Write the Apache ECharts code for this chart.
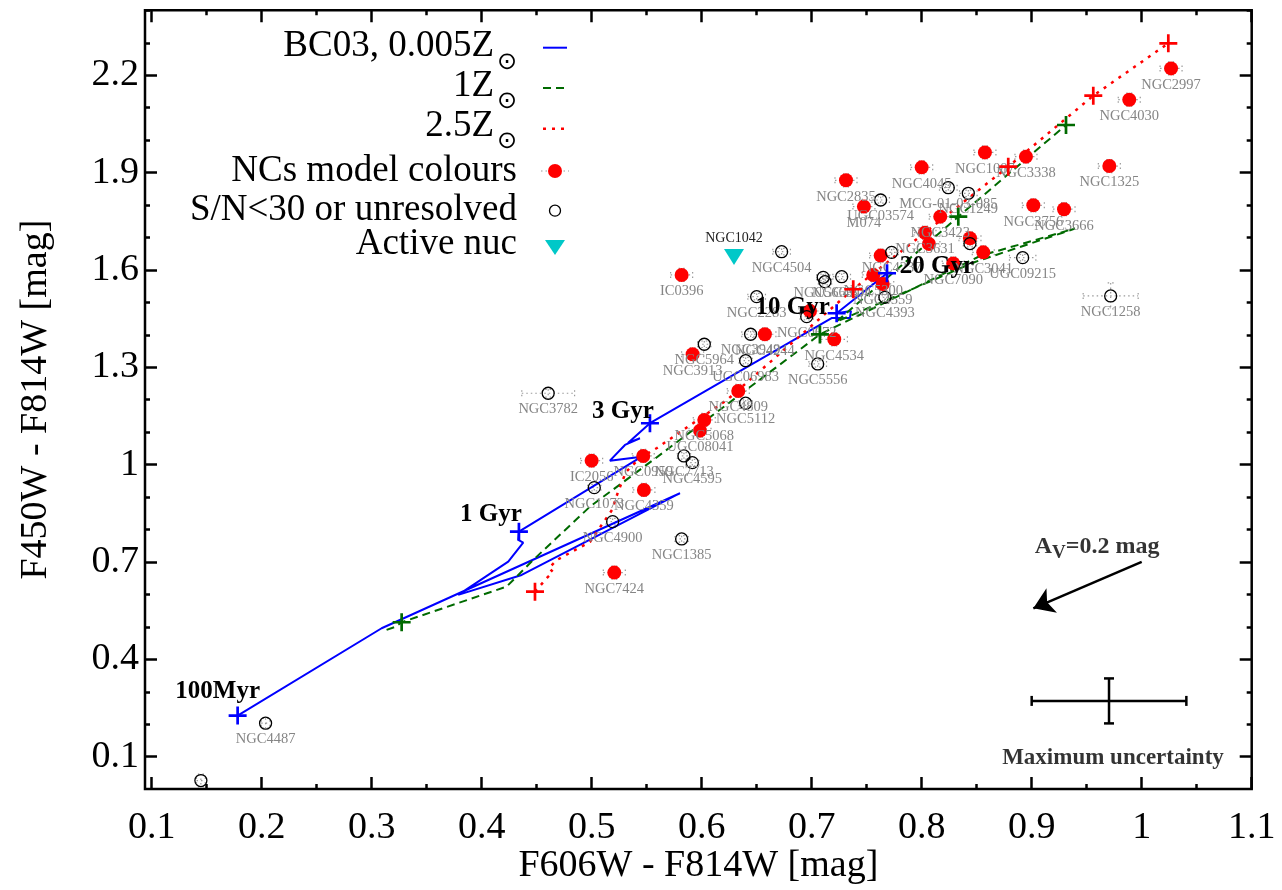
<!DOCTYPE html>
<html>
<head>
<meta charset="utf-8">
<script src="https://cdn.jsdelivr.net/npm/echarts@6/dist/echarts.min.js"></script>
<style>html,body{margin:0;padding:0;background:#fff}#chart{width:1282px;height:890px}</style>
</head>
<body>
<div id="chart"></div>
<script>
// NCs model colours (red dots)
var ncNames = ['NGC2997','NGC4030','NGC1325','NGC3338','NGC1087','NGC4045','NGC2835','M074','NGC3756','NGC3666',
               'NGC3423','NGC3631','','','NGC3041','NGC7090','','NGC5300','NGC4559','',
               'NGC4534','NGC4244','NGC3913','IC0396','NGC4809','NGC5068','UGC08041','IC2056','NGC0959','NGC4359','NGC7424'];
var ncX = [1.0267,0.9887,0.9706,0.8948,0.8575,0.800,0.7312,0.7475,0.9015,0.9294,
           0.8169,0.803,0.8066,0.8439,0.856,0.8287,0.7627,0.756,0.7646,0.6985,
           0.7205,0.6575,0.5918,0.5818,0.6333,0.6024,0.5985,0.500,0.5469,0.5475,0.5206];
var ncY = [2.221,2.1245,1.920,1.949,1.962,1.916,1.876,1.795,1.799,1.787,
           1.764,1.7146,1.680,1.6974,1.654,1.620,1.644,1.5843,1.5566,1.4733,
           1.386,1.4015,1.340,1.5843,1.2268,1.1374,1.1045,1.012,1.0265,0.9217,0.6669];
var ncErrX = [0.01,0.01,0.01,0.01,0.01,0.01,0.01,0.01,0.01,0.01,
              0.01,0.01,0.01,0.01,0.01,0.01,0.01,0.01,0.01,0.01,
              0.012,0.01,0.01,0.01,0.01,0.01,0.01,0.01,0.01,0.01,0.01];
var ncErrY = [0.02,0.02,0.02,0.02,0.02,0.02,0.02,0.02,0.02,0.02,
              0.02,0.02,0.02,0.02,0.02,0.02,0.02,0.02,0.02,0.02,
              0.02,0.02,0.02,0.02,0.02,0.02,0.02,0.02,0.02,0.02,0.02];

// S/N<30 or unresolved (open circles)
var lowNames = ['','NGC4487','NGC3782','NGC1385','NGC4900','NGC1073','NGC7713','NGC4595','NGC5112','UGC06983',
                'NGC5964','NGC3949','NGC5556','NGC2283','NGC4504','NGC5669','','NGC4204','NGC0672','NGC4393',
                'NGC4237','MCG-01-03-085','NGC1249','UGC03574','','UGC09215','NGC1258'];
var lowX = [0.1448,0.2036,0.4605,0.5818,0.5191,0.5024,0.5839,0.5915,0.640,0.640,
            0.6024,0.6445,0.7055,0.650,0.6727,0.7105,0.7121,0.7273,0.6955,0.7666,
            0.7727,0.8242,0.8424,0.7627,0.8439,0.8918,0.9718];
var lowY = [0.026,0.2028,1.2197,0.7707,0.824,0.9288,1.0265,1.0059,1.189,1.320,
            1.3707,1.4015,1.310,1.5174,1.656,1.577,1.5636,1.579,1.4558,1.5155,
            1.654,1.8533,1.836,1.8154,1.681,1.6376,1.5196];
var lowErrX = [0.004,0.004,0.024,0.006,0.006,0.006,0.006,0.006,0.006,0.006,
               0.006,0.008,0.008,0.008,0.008,0.006,0.006,0.008,0.006,0.006,
               0.006,0.008,0.008,0.008,0.006,0.012,0.025];
var lowErrY = [0.02,0.015,0.012,0.01,0.01,0.01,0.01,0.01,0.01,0.01,
               0.01,0.01,0.01,0.01,0.01,0.01,0.01,0.01,0.01,0.01,
               0.01,0.01,0.01,0.01,0.01,0.01,0.04];

// Active nucleus
var agnNames = ['NGC1042'];
var agnX = [0.6294];
var agnY = [1.640];

// BC03 tracks
var trackBlue = [[0.1782,0.2262],[0.3091,0.4955],[0.5803,0.9116],[0.4364,0.6598],[0.3787,0.5982],
                 [0.4242,0.7008],[0.4378,0.7593],[0.4333,0.7676],[0.4339,0.7932],[0.5455,1.0243],
                 [0.5166,1.012],[0.5303,1.0604],[0.5439,1.081],[0.533,1.0666],[0.553,1.1273],
                 [0.7185,1.4517],[0.7348,1.4517],[0.7357,1.4733],[0.7227,1.4663],[0.7685,1.5895]];
var trackGreen = [[0.3136,0.4903],[0.3212,0.4995],[0.3273,0.514],[0.4227,0.6237],[0.4318,0.6545],
                  [0.4469,0.706],[0.4985,0.8703],[0.556,1.0142],[0.7075,1.4011],[0.853,1.6428],
                  [0.9394,1.7276],[0.9275,1.7137],[0.8485,1.6243],[0.7221,1.4394],[0.8333,1.764],[0.9312,2.0465]];
var trackRed = [[0.4485,0.6083],[0.4594,0.6505],[0.4648,0.669],[0.4612,0.6813],[0.4685,0.706],
                [0.4985,0.7615],[0.5185,0.8601],[0.524,0.9156],[0.5312,0.9772],[0.5439,1.0203],
                [0.5594,1.0511],[0.623,1.1991],[0.7378,1.5402],[0.8787,1.918],[0.956,2.1368],[1.0242,2.2983]];

// age markers
var blueAgeX = [0.1782,0.4339,0.553,0.7227,0.7685];
var blueAgeY = [0.2262,0.7932,1.1273,1.4663,1.5895];
var blueAgeText = ['100Myr','1 Gyr','3 Gyr','10 Gyr','20 Gyr'];
var greenAgeX = [0.3273,0.7075,0.8333,0.9312];
var greenAgeY = [0.514,1.4011,1.764,2.0465];
var redAgeX = [0.4485,0.7378,0.8787,0.956,1.0242];
var redAgeY = [0.6083,1.5402,1.918,2.1368,2.2983];

// extinction vector and maximum uncertainty
var avArrow = [[1.0,0.70],[0.9015,0.557]];
var avText = [0.9594,0.747];
var maxErr = [0.9703,0.2715,0.0703,0.0693];
var maxErrText = [0.9739,0.0949];

var FONT = 'Liberation Serif';
var PLUS = 'path://M8.5,0H11.5V8.5H20V11.5H11.5V20H8.5V11.5H0V8.5H8.5Z';
var ageOffsets = [[-20,-24],[-28,-17],[-27,-12],[-44,-6],[50,-7]];

function errRender(color, width, dash, cap){
    return function(params, api){
        var x = api.value(0), y = api.value(1), ex = api.value(2), ey = api.value(3);
        var l = api.coord([x-ex,y]), r = api.coord([x+ex,y]);
        var t = api.coord([x,y+ey]), b = api.coord([x,y-ey]);
        var st = {stroke:color, lineWidth:width, lineDash:dash, fill:null};
        return {type:'group', children:[
            {type:'line', shape:{x1:l[0],y1:l[1],x2:r[0],y2:r[1]}, style:st},
            {type:'line', shape:{x1:t[0],y1:t[1],x2:b[0],y2:b[1]}, style:st},
            {type:'line', shape:{x1:l[0],y1:l[1]-cap,x2:l[0],y2:l[1]+cap}, style:st},
            {type:'line', shape:{x1:r[0],y1:r[1]-cap,x2:r[0],y2:r[1]+cap}, style:st},
            {type:'line', shape:{x1:t[0]-cap,y1:t[1],x2:t[0]+cap,y2:t[1]}, style:st},
            {type:'line', shape:{x1:b[0]-cap,y1:b[1],x2:b[0]+cap,y2:b[1]}, style:st}
        ]};
    };
}

var errData = [];
for (var i=0;i<ncX.length;i++) errData.push([ncX[i],ncY[i],ncErrX[i],ncErrY[i]]);
for (var j=0;j<lowX.length;j++) errData.push([lowX[j],lowY[j],lowErrX[j],lowErrY[j]]);

var ncData = ncX.map(function(x,i){ return [x,ncY[i],ncNames[i]]; });
var lowData = lowX.map(function(x,i){ return [x,lowY[i],lowNames[i]]; });
var agnData = agnX.map(function(x,i){ return [x,agnY[i],agnNames[i]]; });
var blueAgeData = blueAgeX.map(function(x,i){
    return {value:[x,blueAgeY[i],blueAgeText[i]], label:{offset:ageOffsets[i]}};
});
var greenAgeData = greenAgeX.map(function(x,i){ return [x,greenAgeY[i]]; });
var redAgeData = redAgeX.map(function(x,i){ return [x,redAgeY[i]]; });

var pointLabel = {show:true, position:'bottom', distance:2, color:'#858585', fontSize:14.5,
                  fontFamily:FONT, formatter:function(p){ return p.value[2]; }};

var tickLabel = {color:'#000', fontSize:38, fontFamily:FONT};
var tickMajor = {show:true, inside:true, length:12, lineStyle:{color:'#000', width:2.5}};
var noAxis = {axisLine:{show:false}, axisTick:{show:false}, axisLabel:{show:false}, splitLine:{show:false}};

var myChart = echarts.init(document.getElementById('chart'));

var option = {
    animation:false,
    backgroundColor:'#fff',
    textStyle:{fontFamily:FONT},
    grid:[
        {left:145, right:30.3, top:10.3, bottom:100.9, show:true, borderColor:'#000', borderWidth:2.5, backgroundColor:'transparent'},
        {left:145, right:30.3, top:75.2, bottom:133.35},
        {left:151.7, right:30.3, top:10.3, bottom:100.9},
        {left:145, right:30.3, top:10.3, bottom:814.8}
    ],
    xAxis:[
        Object.assign({gridIndex:0, type:'value', min:0.094, max:1.1,
         name:'F606W - F814W [mag]', nameLocation:'middle', nameGap:58,
         nameTextStyle:{color:'#000', fontSize:38, fontFamily:FONT}}, noAxis),
        {gridIndex:2, type:'value', position:'bottom', min:0.1, max:1.1, interval:0.1,
         axisLine:{show:false}, splitLine:{show:false}, axisTick:tickMajor,
         minorTick:{show:true, splitNumber:2, length:5, lineStyle:{color:'#000', width:2.5}},
         axisLabel:Object.assign({margin:20}, tickLabel)},
        {gridIndex:2, type:'value', position:'top', min:0.1, max:1.1, interval:0.1,
         axisLine:{show:false}, splitLine:{show:false}, axisTick:tickMajor,
         minorTick:{show:true, splitNumber:2, length:5, lineStyle:{color:'#000', width:2.5}},
         axisLabel:{show:false}},
        {gridIndex:1, type:'value', show:false, min:0, max:1},
        {gridIndex:3, type:'value', show:false, min:0, max:1}
    ],
    yAxis:[
        Object.assign({gridIndex:0, type:'value', min:0, max:2.4,
         name:'F450W - F814W [mag]', nameLocation:'middle', nameGap:90,
         nameTextStyle:{color:'#000', fontSize:38, fontFamily:FONT}}, noAxis),
        {gridIndex:1, type:'value', position:'left', min:0.1, max:2.2, interval:0.3,
         axisLine:{show:false}, splitLine:{show:false}, axisTick:tickMajor,
         minorTick:{show:true, splitNumber:3, length:5, lineStyle:{color:'#000', width:2.5}},
         axisLabel:Object.assign({margin:6, formatter:function(v){
             return String(Math.round(v*10)/10);
         }}, tickLabel)},
        {gridIndex:1, type:'value', position:'right', min:0.1, max:2.2, interval:0.3,
         axisLine:{show:false}, splitLine:{show:false}, axisTick:tickMajor,
         minorTick:{show:true, splitNumber:3, length:5, lineStyle:{color:'#000', width:2.5}},
         axisLabel:{show:false}},
        {gridIndex:2, type:'value', show:false, min:0, max:1},
        // minor ticks above 2.2
        {gridIndex:3, type:'value', position:'left', min:2.2, max:2.4, interval:0.1,
         axisLine:{show:false}, splitLine:{show:false}, axisLabel:{show:false},
         axisTick:{show:true, inside:true, length:5, lineStyle:{color:'#000', width:2.5}}},
        {gridIndex:3, type:'value', position:'right', min:2.2, max:2.4, interval:0.1,
         axisLine:{show:false}, splitLine:{show:false}, axisLabel:{show:false},
         axisTick:{show:true, inside:true, length:5, lineStyle:{color:'#000', width:2.5}}}
    ],
    series:[
        {type:'custom', name:'err', xAxisIndex:0, yAxisIndex:0, z:1, silent:true,
         renderItem:errRender('#9a9a9a',1.2,[1.5,3],3), encode:{x:0,y:1}, data:errData},
        {type:'line', name:'BC03, 0.005Z', xAxisIndex:0, yAxisIndex:0, z:2, showSymbol:false, symbol:'none',
         lineStyle:{color:'#0000ff', width:2}, data:trackBlue},
        {type:'line', name:'1Z', xAxisIndex:0, yAxisIndex:0, z:2, showSymbol:false, symbol:'none',
         lineStyle:{color:'#006a00', width:2, type:[8,5]}, data:trackGreen},
        {type:'line', name:'2.5Z', xAxisIndex:0, yAxisIndex:0, z:2, showSymbol:false, symbol:'none',
         lineStyle:{color:'#ff0000', width:2.5, type:[3,6]}, data:trackRed},
        {type:'scatter', name:'NCs model colours', xAxisIndex:0, yAxisIndex:0, z:3,
         symbol:'circle', symbolSize:14, itemStyle:{color:'#ff0000', opacity:1},
         label:pointLabel, data:ncData},
        {type:'scatter', name:'S/N<30 or unresolved', xAxisIndex:0, yAxisIndex:0, z:3,
         symbol:'circle', symbolSize:12,
         itemStyle:{color:'rgba(0,0,0,0)', borderColor:'#000', borderWidth:1.3, opacity:1},
         label:pointLabel, data:lowData},
        {type:'scatter', name:'Active nuc', xAxisIndex:0, yAxisIndex:0, z:3,
         symbol:'path://M0,0L20,0L10,16Z', symbolSize:[20,16], itemStyle:{color:'#00c8c8', opacity:1},
         label:{show:true, position:'top', distance:4, color:'#222', fontSize:14, fontFamily:FONT,
                formatter:function(p){ return p.value[2]; }},
         data:agnData},
        {type:'scatter', name:'ages blue', xAxisIndex:0, yAxisIndex:0, z:5,
         symbol:PLUS, symbolSize:18, itemStyle:{color:'#0000ff', opacity:1},
         label:{show:true, position:'inside', color:'#000', fontSize:25, fontWeight:'bold', fontFamily:FONT,
                formatter:function(p){ return p.value[2]; }},
         data:blueAgeData},
        {type:'scatter', name:'ages green', xAxisIndex:0, yAxisIndex:0, z:5,
         symbol:PLUS, symbolSize:18, itemStyle:{color:'#006a00', opacity:1}, data:greenAgeData},
        {type:'scatter', name:'ages red', xAxisIndex:0, yAxisIndex:0, z:5,
         symbol:PLUS, symbolSize:18, itemStyle:{color:'#ff0000', opacity:1}, data:redAgeData},
        {type:'lines', name:'Av', coordinateSystem:'cartesian2d', xAxisIndex:0, yAxisIndex:0, z:5,
         symbol:['none','arrow'], symbolSize:20,
         lineStyle:{color:'#000', width:2.5, opacity:1, curveness:0},
         data:[{coords:avArrow}]},
        {type:'custom', name:'maxerr', xAxisIndex:0, yAxisIndex:0, z:5,
         renderItem:errRender('#000',2.5,null,5), encode:{x:0,y:1}, data:[maxErr]},
        {type:'scatter', name:'notes', xAxisIndex:0, yAxisIndex:0, z:5, symbolSize:0,
         label:{show:true, position:'inside', color:'#000', fontFamily:FONT, fontWeight:'bold',
                formatter:function(p){ return p.value[2]; },
                rich:{a:{fontSize:24, fontWeight:'bold', fontFamily:FONT, color:'#000'},
                      v:{fontSize:19, fontWeight:'bold', fontFamily:FONT, color:'#000', padding:[12,0,0,0]},
                      m:{fontSize:23, fontWeight:'bold', fontFamily:FONT, color:'#000'}}},
         data:[[avText[0],avText[1],'{a|A}{v|V}{a|=0.2 mag}'],
               [maxErrText[0],maxErrText[1],'{m|Maximum uncertainty}']]}
    ],
    graphic:[
        {type:'text', x:494, y:46, style:{text:'BC03, 0.005Z', fill:'#000', fontSize:37, fontFamily:FONT, align:'right', verticalAlign:'middle'}},
        {type:'text', x:507, y:62.5, style:{text:'\u2299', fill:'#000', fontSize:24, fontFamily:'DejaVu Sans', align:'center', verticalAlign:'middle'}},
        {type:'text', x:494, y:86, style:{text:'1Z', fill:'#000', fontSize:37, fontFamily:FONT, align:'right', verticalAlign:'middle'}},
        {type:'text', x:507, y:101.5, style:{text:'\u2299', fill:'#000', fontSize:24, fontFamily:'DejaVu Sans', align:'center', verticalAlign:'middle'}},
        {type:'text', x:494, y:126.5, style:{text:'2.5Z', fill:'#000', fontSize:37, fontFamily:FONT, align:'right', verticalAlign:'middle'}},
        {type:'text', x:507, y:142, style:{text:'\u2299', fill:'#000', fontSize:24, fontFamily:'DejaVu Sans', align:'center', verticalAlign:'middle'}},
        {type:'text', x:517, y:171, style:{text:'NCs model colours', fill:'#000', fontSize:37, fontFamily:FONT, align:'right', verticalAlign:'middle'}},
        {type:'text', x:517, y:210.5, style:{text:'S/N<30 or unresolved', fill:'#000', fontSize:37, fontFamily:FONT, align:'right', verticalAlign:'middle'}},
        {type:'text', x:517, y:244.5, style:{text:'Active nuc', fill:'#000', fontSize:37, fontFamily:FONT, align:'right', verticalAlign:'middle'}},
        {type:'line', shape:{x1:543, y1:47.7, x2:567, y2:47.7}, style:{stroke:'#0000ff', lineWidth:2}},
        {type:'line', shape:{x1:543, y1:88, x2:567, y2:88}, style:{stroke:'#006a00', lineWidth:2, lineDash:[8,5]}},
        {type:'line', shape:{x1:543, y1:128.7, x2:567, y2:128.7}, style:{stroke:'#ff0000', lineWidth:2.5, lineDash:[3,6]}},
        {type:'line', shape:{x1:541, y1:171, x2:569, y2:171}, style:{stroke:'#9a9a9a', lineWidth:1.2, lineDash:[1.5,3]}},
        {type:'circle', shape:{cx:555, cy:171, r:7}, style:{fill:'#ff0000'}},
        {type:'circle', shape:{cx:555, cy:210.7, r:5.5}, style:{fill:null, stroke:'#000', lineWidth:1.3}},
        {type:'polygon', shape:{points:[[545,240],[565,240],[555,255]]}, style:{fill:'#00c8c8'}}
    ]
};

myChart.setOption(option);
</script>
</body>
</html>
